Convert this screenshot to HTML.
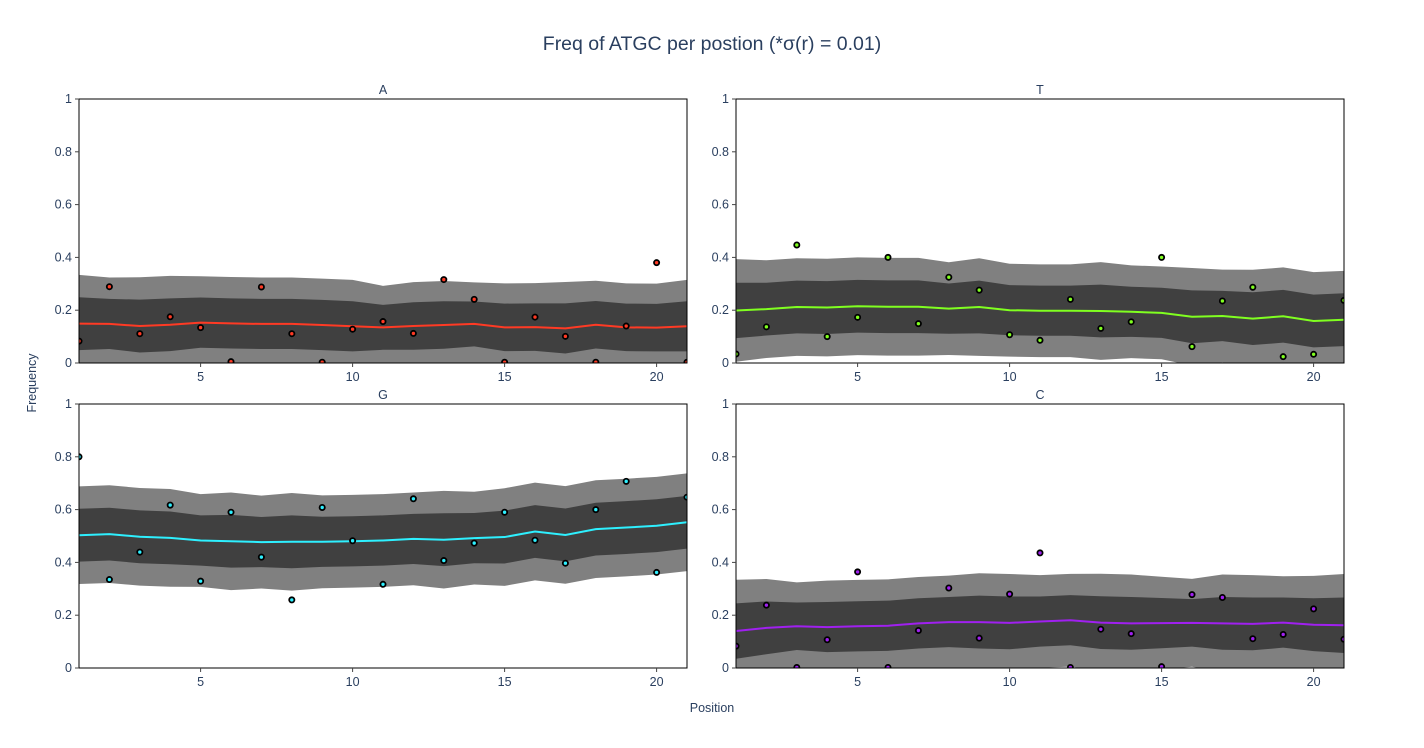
<!DOCTYPE html>
<html><head><meta charset="utf-8"><style>
html,body{margin:0;padding:0;background:#fff;}
svg{display:block;font-family:"Liberation Sans",Arial,sans-serif;}
</style></head><body>
<svg id="chart" width="1424" height="748" viewBox="0 0 1424 748" xmlns="http://www.w3.org/2000/svg">
<text x="712" y="50" text-anchor="middle" font-size="19.5" fill="#2a3f5f">Freq of ATGC per postion (*σ(r) = 0.01)</text>
<text x="712" y="712" text-anchor="middle" font-size="12.5" fill="#2a3f5f">Position</text>
<text x="36" y="383" text-anchor="middle" font-size="12.5" fill="#2a3f5f" transform="rotate(-90 36 383)">Frequency</text>
</svg>
<script>
const positions = [1,2,3,4,5,6,7,8,9,10,11,12,13,14,15,16,17,18,19,20,21];
const xTicks = [5,10,15,20];
const yTicks = [0,0.2,0.4,0.6,0.8,1];
const yTickLabels = ["0","0.2","0.4","0.6","0.8","1"];
const panelNames = ["A","T","G","C"];
const panelColors = ["#ff3a24","#80ff20","#2ef0ff","#a020f0"];

const meanA = [0.149,0.148,0.14,0.145,0.153,0.15,0.148,0.148,0.144,0.139,0.135,0.14,0.144,0.148,0.135,0.136,0.131,0.145,0.135,0.134,0.139];
const sdA = [0.1,0.095,0.1,0.1,0.095,0.095,0.095,0.095,0.095,0.095,0.085,0.09,0.09,0.085,0.09,0.09,0.095,0.09,0.09,0.09,0.095];
const pointsA = [0.083,0.289,0.111,0.175,0.134,0.005,0.288,0.111,0.003,0.128,0.157,0.112,0.316,0.241,0.003,0.174,0.101,0.003,0.14,0.38,0.003];

const meanT = [0.199,0.204,0.212,0.21,0.215,0.213,0.213,0.206,0.212,0.2,0.198,0.198,0.197,0.194,0.19,0.175,0.178,0.168,0.177,0.159,0.164];
const sdT = [0.105,0.1,0.1,0.1,0.1,0.1,0.1,0.095,0.1,0.095,0.095,0.095,0.1,0.095,0.095,0.1,0.095,0.1,0.1,0.1,0.1];
const pointsT = [0.034,0.137,0.447,0.1,0.173,0.4,0.149,0.325,0.276,0.107,0.086,0.241,0.131,0.156,0.4,0.062,0.235,0.287,0.024,0.033,0.237];

const meanG = [0.503,0.507,0.497,0.493,0.483,0.48,0.477,0.478,0.478,0.48,0.483,0.489,0.486,0.492,0.496,0.517,0.504,0.526,0.532,0.539,0.552];
const sdG = [0.1,0.1,0.1,0.1,0.095,0.1,0.095,0.1,0.095,0.095,0.095,0.095,0.1,0.095,0.1,0.1,0.1,0.1,0.1,0.1,0.1];
const pointsG = [0.8,0.335,0.439,0.617,0.329,0.59,0.42,0.258,0.608,0.482,0.317,0.641,0.407,0.473,0.59,0.484,0.397,0.6,0.707,0.362,0.647];

const meanC = [0.14,0.152,0.158,0.155,0.158,0.16,0.169,0.174,0.174,0.171,0.176,0.181,0.172,0.169,0.17,0.171,0.169,0.167,0.172,0.164,0.162];
const sdC = [0.105,0.1,0.09,0.095,0.095,0.095,0.095,0.095,0.1,0.1,0.095,0.095,0.1,0.1,0.095,0.09,0.1,0.1,0.095,0.1,0.105];
const pointsC = [0.083,0.238,0.002,0.107,0.364,0.002,0.142,0.303,0.113,0.28,0.436,0.002,0.147,0.13,0.005,0.278,0.267,0.111,0.127,0.224,0.109];

const means = [meanA,meanT,meanG,meanC];
const sds = [sdA,sdT,sdG,sdC];
const points = [pointsA,pointsT,pointsG,pointsC];

const NS = "http://www.w3.org/2000/svg";
const svg = document.getElementById("chart");
function mk(tag, attrs, parent){const e=document.createElementNS(NS,tag);for(const k in attrs)e.setAttribute(k,attrs[k]);(parent||svg).appendChild(e);return e;}

const boxes = [{x:79,y:99},{x:736,y:99},{x:79,y:404},{x:736,y:404}];
const W = 608, H = 264;
const defs = mk("defs",{});
boxes.forEach((b,i)=>{
  const cp = mk("clipPath",{id:"clip"+i},defs);
  mk("rect",{x:b.x,y:b.y,width:W,height:H},cp);
});

boxes.forEach((b,i)=>{
  const xs = v => b.x + (v-1)/20*W;
  const ys = v => b.y + H - v*H;
  const g = mk("g",{});
  
  
  const t = mk("text",{x:b.x+W/2,y:b.y-5,"text-anchor":"middle","font-size":"12.5",fill:"#2a3f5f"},g);
  t.textContent = panelNames[i];
  
  
  const m = means[i], s = sds[i];
  const plot = mk("g",{"clip-path":"url(#clip"+i+")"},g);
  function band(k){
    let up = positions.map((p,j)=>xs(p)+","+ys(m[j]+k*s[j]));
    let lo = positions.map((p,j)=>xs(p)+","+ys(m[j]-k*s[j])).reverse();
    return up.concat(lo).join(" ");
  }
  const outer = mk("polygon",{points:band(1.85),fill:"#808080"},plot);
  
  
  const inner = mk("polygon",{points:band(1),fill:"#404040"},plot);
  
  
  const line = mk("polyline",{points:positions.map((p,j)=>xs(p)+","+ys(m[j])).join(" "),fill:"none",stroke:panelColors[i],"stroke-width":2},plot);
  
  
  const ptsG = mk("g",{"clip-path":"url(#clip"+i+")"},g);
  points[i].forEach((v,j)=>{
    const c = mk("circle",{cx:xs(positions[j]),cy:ys(v),r:2.6,fill:panelColors[i],stroke:"#000","stroke-width":1.8},ptsG);
    
    
  });
  const frame = mk("rect",{x:b.x,y:b.y,width:W,height:H,fill:"none",stroke:"#000","stroke-width":1},g);
  
  
  xTicks.forEach(v=>{
    mk("line",{x1:xs(v),x2:xs(v),y1:b.y+H,y2:b.y+H+4,stroke:"#444"},g);
    const tl = mk("text",{x:xs(v),y:b.y+H+18,"text-anchor":"middle","font-size":"12.5",fill:"#2a3f5f"},g);
    tl.textContent = v;
    
    
  });
  yTicks.forEach((v,k)=>{
    mk("line",{x1:b.x-4,x2:b.x,y1:ys(v),y2:ys(v),stroke:"#444"},g);
    const tl = mk("text",{x:b.x-7,y:ys(v)+4,"text-anchor":"end","font-size":"12.5",fill:"#2a3f5f"},g);
    tl.textContent = yTickLabels[k];
    
    
  });
});
</script>
</body></html>
